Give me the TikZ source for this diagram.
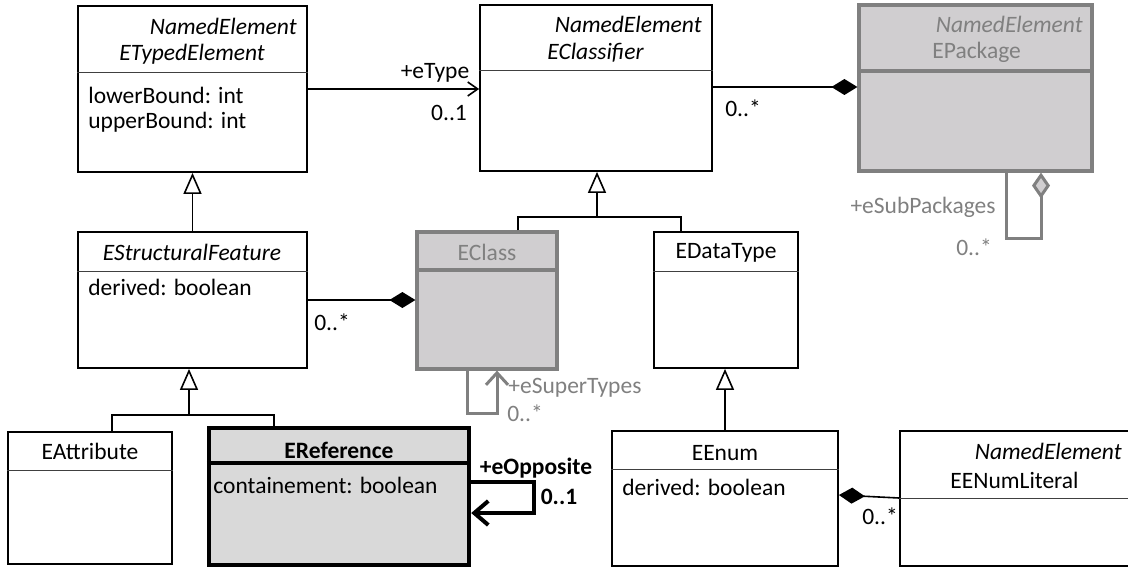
\documentclass[tikz,border=0pt]{standalone}
\usepackage{fontspec}
\setmainfont{Carlito}
\usepackage{tikz}
\usetikzlibrary{arrows.meta,positioning,fit}
\definecolor{umlgrey}{RGB}{128,128,128}
\definecolor{umlfill}{RGB}{208,206,208}
\definecolor{reffill}{RGB}{217,217,217}
\newcommand{\umlfont}{\fontsize{11.75}{14}\selectfont}
\tikzstyle{classbox} = [rectangle, draw=black, fill=white, line width=0.9pt, inner sep=0pt]
\tikzstyle{greybox} = [rectangle, draw=umlgrey, fill=umlfill, line width=1.6pt, inner sep=0pt]
\tikzstyle{refbox} = [rectangle, draw=black, fill=reffill, line width=2.2pt, inner sep=0pt]
\tikzstyle{divider} = [line width=0.5pt, draw=black!75]
\tikzstyle{txt} = [inner sep=0pt, font=\umlfont]
\tikzstyle{itxt} = [inner sep=0pt, font=\umlfont\itshape]
\tikzstyle{btxt} = [inner sep=0pt, font=\umlfont\bfseries]
\tikzstyle{line} = [line width=0.8pt]
\tikzstyle{inherit} = [line, -{Triangle[open,length=10.5pt,width=9pt]}]
\tikzstyle{compose} = [line, -{Diamond[length=13pt,width=8pt]}]
\tikzstyle{assoc} = [line, -{Straight Barb[length=5pt,width=7pt]}]

\begin{document}
\begin{tikzpicture}[x=0.5pt,y=-0.5pt]
\useasboundingbox (0,0) rectangle (1128,567);
% class boxes
\node (typed) [classbox, fit={(78,6) (307,172)}] {};
\node (classifier) [classbox, fit={(480,5) (712,171)}] {};
\node (package) [greybox, fit={(859,5) (1092,171)}] {};
\node (feature) [classbox, fit={(78,232) (307,368)}] {};
\node (eclass) [greybox, fit={(417,232) (557,369)}] {};
\node (datatype) [classbox, fit={(654,232) (798,368)}] {};
\node (attribute) [classbox, fit={(8,432) (172,564)}] {};
\node (reference) [refbox, fit={(209,428) (469,565)}] {};
\node (enum) [classbox, fit={(612,431) (838,566)}] {};
\node (literal) [classbox, fit={(900,431) (1140,566)}] {};
% dividers
\draw[divider] (typed.west |- 0,73) -- (typed.east |- 0,73);
\draw[divider] (classifier.west |- 0,71) -- (classifier.east |- 0,71);
\draw[greybox] (package.west |- 0,71) -- (package.east |- 0,71);
\draw[divider] (feature.west |- 0,271) -- (feature.east |- 0,271);
\draw[greybox] (eclass.west |- 0,270) -- (eclass.east |- 0,270);
\draw[divider] (datatype.west |- 0,271) -- (datatype.east |- 0,271);
\draw[divider] (attribute.west |- 0,470) -- (attribute.east |- 0,470);
\draw[refbox] (reference.west |- 0,463) -- (reference.east |- 0,463);
\draw[divider] (enum.west |- 0,469) -- (enum.east |- 0,469);
\draw[divider] (literal.west |- 0,498) -- (literal.east |- 0,498);
% class texts
\node (typedstereo) [itxt, anchor=east] at (297,26) {NamedElement};
\node (typedname) [itxt, anchor=west] at (119,54) {ETypedElement};
\node (typedlower) [txt, anchor=west] at (88,95) {lowerBound: int};
\node (typedupper) [txt, anchor=west] at (88,122) {upperBound: int};
\node (classifierstereo) [itxt, anchor=east] at (702,24) {NamedElement};
\node (classifiername) [itxt, anchor=west] at (547,53) {EClassifier};
\node (packagestereo) [itxt, anchor=east, text=umlgrey] at (1083,24) {NamedElement};
\node (packagename) [txt, anchor=west, text=umlgrey] at (932,52) {EPackage};
\node (featurename) [itxt] at (192,252) {EStructuralFeature};
\node (featureattr) [txt, anchor=west] at (88,287) {derived: boolean};
\node (eclassname) [txt, text=umlgrey] at (487,252) {EClass};
\node (datatypename) [txt] at (726,253) {EDataType};
\node (attributename) [txt] at (90,451) {EAttribute};
\node (referencename) [btxt] at (339,450) {EReference};
\node (referenceattr) [txt, anchor=west] at (213,485) {containement: boolean};
\node (enumname) [txt] at (725,453) {EEnum};
\node (enumattr) [txt, anchor=west] at (622,487) {derived: boolean};
\node (literalstereo) [itxt, anchor=east] at (1122,451) {NamedElement};
\node (literalname) [txt, anchor=west] at (950,480) {EENumLiteral};
% generalisations
\draw[inherit] (feature.north) -- (typed.south);
\coordinate (featjoin) at (189,415);
\draw[line] (attribute.north -| 112,0) |- (featjoin);
\draw[line] (reference.north -| 274,0) |- (featjoin);
\draw[inherit] (featjoin) -- (feature.south -| featjoin);
\coordinate (clsjoin) at (597,217);
\draw[line] (eclass.north -| 518,0) |- (clsjoin);
\draw[line] (datatype.north -| 681,0) |- (clsjoin);
\draw[inherit] (clsjoin) -- (classifier.south -| clsjoin);
\draw[inherit] (enum.north) -- (datatype.south -| enum.north);
% associations
\draw[assoc] (typed.east |- 0,89) -- (classifier.west |- 0,89);
\node (etype) [txt] at (435,73) {+eType};
\node (etypemult) [txt] at (449,113) {0..1};
\draw[compose] (classifier.east |- 0,87) -- (package.west |- 0,87);
\node (classifiermult) [txt] at (743,108) {0..*};
\draw[compose] (feature.east |- 0,300) -- (eclass.west |- 0,300);
\node (featuremult) [txt] at (332,322) {0..*};
\draw[compose] (literal.west |- 0,498) -- (enum.east |- 0,495);
\node (literalmult) [txt] at (880,516) {0..*};
% self loops
\coordinate (subturn) at (1041,238);
\draw[draw=umlgrey, line width=1.5pt, -{Diamond[length=13pt,width=9pt,fill=umlfill]}] (package.south -| 1006,0) |- (subturn) -- (package.south -| subturn);
\node (subpackages) [txt, text=umlgrey] at (923,207) {+eSubPackages};
\node (subpackagesmult) [txt, text=umlgrey] at (974,247) {0..*};
\coordinate (superturn) at (497,413);
\draw[draw=umlgrey, line width=1.5pt, -{Straight Barb[length=6pt,width=11pt]}] (eclass.south -| 467,0) |- (superturn) -- (eclass.south -| superturn);
\node (supertypes) [txt, text=umlgrey, anchor=west] at (508,388) {+eSuperTypes};
\node (supertypesmult) [txt, text=umlgrey] at (525,413) {0..*};
\coordinate (oppturn) at (534,513);
\draw[line width=2pt, -{Straight Barb[length=7pt,width=12pt]}] (reference.east |- 0,482) -| (oppturn) -- (reference.east |- 0,513);
\node (opposite) [btxt] at (536,468) {+eOpposite};
\node (oppositemult) [btxt] at (559,497) {0..1};
\end{tikzpicture}
\end{document}
